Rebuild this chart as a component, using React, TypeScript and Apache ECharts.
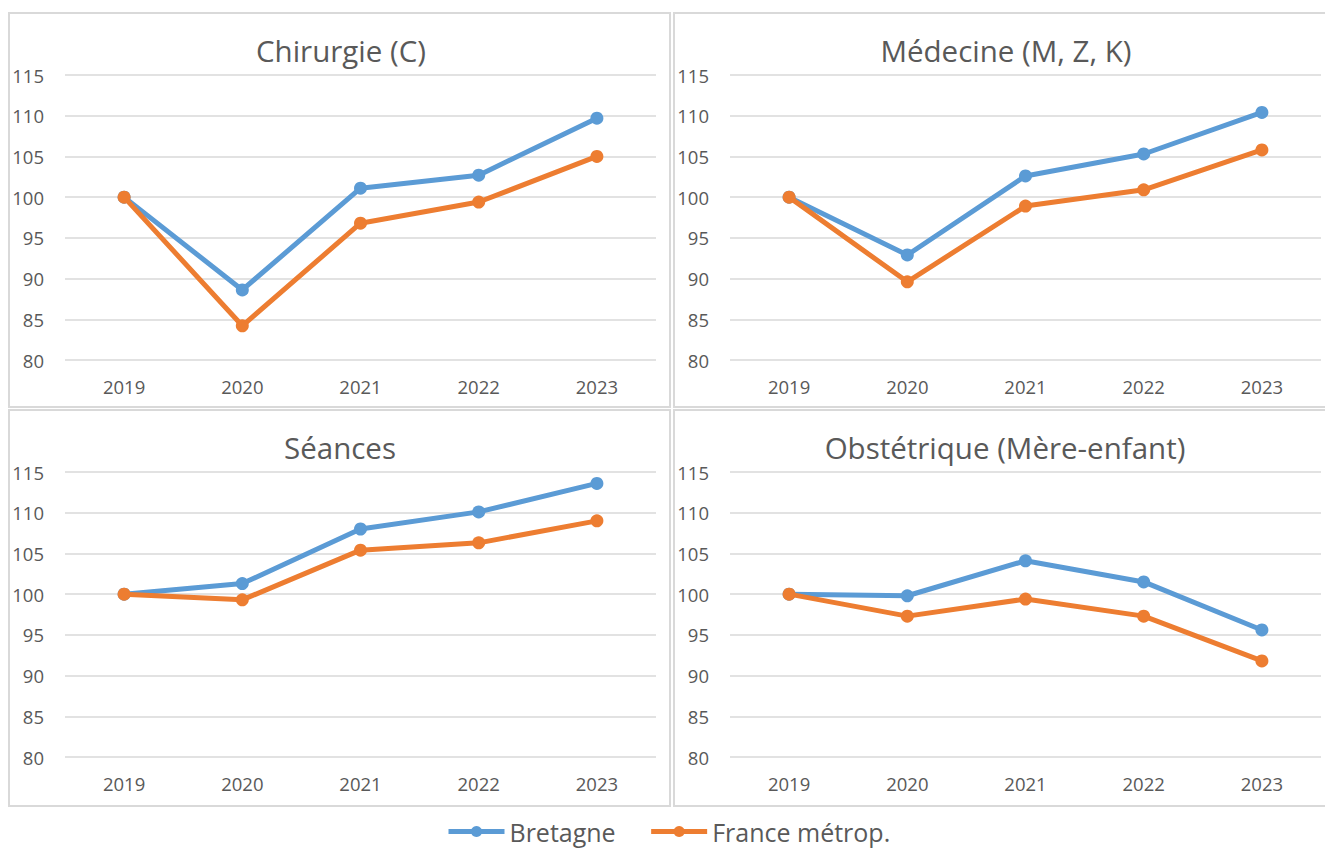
import React, { useEffect, useRef } from "react";
import * as echarts from "echarts";

const years = ["2019", "2020", "2021", "2022", "2023"];
const panelTitles = ["Chirurgie (C)", "Médecine (M, Z, K)", "Séances", "Obstétrique (Mère-enfant)"];
const seriesNames = ["Bretagne", "France métrop."];

const bretagneChirurgie = [100, 88.6, 101.1, 102.7, 109.7];
const franceChirurgie = [100, 84.2, 96.8, 99.4, 105.0];
const bretagneMedecine = [100, 92.9, 102.6, 105.3, 110.4];
const franceMedecine = [100, 89.6, 98.9, 100.9, 105.8];
const bretagneSeances = [100, 101.3, 108.0, 110.1, 113.6];
const franceSeances = [100, 99.3, 105.4, 106.3, 109.0];
const bretagneObstetrique = [100, 99.8, 104.1, 101.5, 95.6];
const franceObstetrique = [100, 97.3, 99.4, 97.3, 91.8];

const yMin = 80;
const yMax = 115;
const yInterval = 5;

const bretagneAll = [bretagneChirurgie, bretagneMedecine, bretagneSeances, bretagneObstetrique];
const franceAll = [franceChirurgie, franceMedecine, franceSeances, franceObstetrique];

const BLUE = "#5B9BD5";
const ORANGE = "#ED7D31";
const TEXT = "#595959";
const GRID = "#d9d9d9";
const FONT = "'Open Sans', sans-serif";

export default function App() {
  const ref = useRef<HTMLDivElement>(null);
  useEffect(() => {
    if (!ref.current) return;
    const chart = echarts.init(ref.current, undefined, { renderer: "svg" });

    const gridPos = [
      { left: 65, top: 75 },
      { left: 730, top: 75 },
      { left: 65, top: 472 },
      { left: 730, top: 472 },
    ];
    const titlePos = [
      { x: 341, y: 35 },
      { x: 1006, y: 35 },
      { x: 340, y: 432 },
      { x: 1005, y: 432 },
    ];
    const panels = [
      { x: 9, y: 13, w: 661, h: 394 },
      { x: 674, y: 13, w: 652, h: 394 },
      { x: 9, y: 410, w: 661, h: 396 },
      { x: 674, y: 410, w: 652, h: 396 },
    ];

    const series: any[] = [];
    for (let i = 0; i < 4; i++) {
      [bretagneAll[i], franceAll[i]].forEach((d, k) => {
        series.push({
          name: seriesNames[k],
          type: "line",
          xAxisIndex: i,
          yAxisIndex: i,
          data: d,
          symbol: "circle",
          symbolSize: 13,
          lineStyle: { width: 5, color: k === 0 ? BLUE : ORANGE },
          itemStyle: { color: k === 0 ? BLUE : ORANGE },
          z: 2 + k,
        });
      });
    }

    chart.setOption({
      animation: false,
      backgroundColor: "#ffffff",
      textStyle: { fontFamily: FONT },
      title: panelTitles.map((t, i) => ({
        text: t,
        left: titlePos[i].x,
        top: titlePos[i].y,
        textAlign: "center",
        padding: 0,
        textStyle: { fontFamily: FONT, fontSize: 29.5, fontWeight: "normal", color: TEXT },
      })),
      graphic: panels.map((p) => ({
        type: "rect",
        shape: { x: p.x, y: p.y, width: p.w, height: p.h },
        style: { fill: "none", stroke: GRID, lineWidth: 2 },
        silent: true,
        z: -1,
      })),
      legend: {
        data: seriesNames,
        left: 446,
        top: 819,
        padding: 0,
        itemWidth: 56,
        itemHeight: 14,
        itemGap: 33,
        lineStyle: { width: 5 },
        textStyle: { fontFamily: FONT, fontSize: 25, color: TEXT },
      },
      grid: gridPos.map((g) => ({ left: g.left, top: g.top, width: 591, height: 285 })),
      xAxis: gridPos.map((_, i) => ({
        type: "category",
        gridIndex: i,
        data: years,
        boundaryGap: true,
        axisLine: { show: false },
        axisTick: { show: false },
        axisLabel: { fontFamily: FONT, fontSize: 18.5, color: TEXT, margin: 17 },
      })),
      yAxis: gridPos.map((_, i) => ({
        type: "value",
        gridIndex: i,
        min: yMin,
        max: yMax,
        interval: yInterval,
        axisLine: { show: false },
        axisTick: { show: false },
        axisLabel: { fontFamily: FONT, fontSize: 18.5, color: TEXT, margin: 21 },
        splitLine: { show: true, lineStyle: { color: GRID, width: 1.5 } },
      })),
      series,
    });
    return () => chart.dispose();
  }, []);
  return (
    <div
      ref={ref}
      style={{ position: "absolute", left: 0, top: 0, width: 1325, height: 849 }}
    />
  );
}
